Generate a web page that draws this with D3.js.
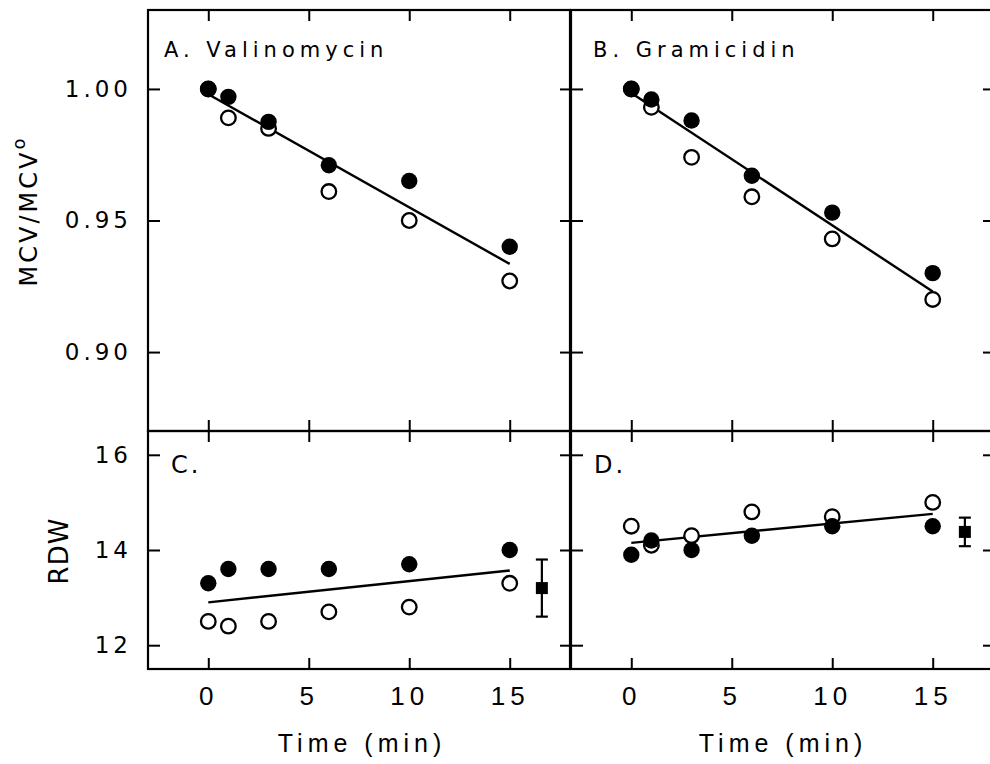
<!DOCTYPE html>
<html>
<head>
<meta charset="utf-8">
<script src="https://cdn.jsdelivr.net/npm/d3@7"></script>
<style>
  body { margin: 0; background: #fff; }
  svg text { font-family: "DejaVu Sans", "Liberation Sans", Arial, sans-serif; fill: #000; }
  svg text.narrow { font-family: "Liberation Sans", Arial, sans-serif; }
</style>
</head>
<body>
<div id="chart"></div>
<script>
const times = [0, 1, 3, 6, 10, 15];
const fitTimes = [0, 15];
const xTicks = [0, 5, 10, 15];
const mcvTicks = [0.90, 0.95, 1.00];
const rdwTicks = [12, 14, 16];

const mcvValinoFilled = [1.000, 0.997, 0.9875, 0.971, 0.965, 0.940];
const mcvValinoOpen   = [1.000, 0.989, 0.985, 0.961, 0.950, 0.927];
const mcvValinoFit    = [0.998, 0.9335];
const mcvGramiFilled  = [1.000, 0.996, 0.988, 0.967, 0.953, 0.930];
const mcvGramiOpen    = [1.000, 0.993, 0.974, 0.959, 0.943, 0.920];
const mcvGramiFit     = [0.9985, 0.923];
const rdwValinoFilled = [13.3, 13.6, 13.6, 13.6, 13.7, 14.0];
const rdwValinoOpen   = [12.5, 12.4, 12.5, 12.7, 12.8, 13.3];
const rdwValinoFit    = [12.9, 13.57];
const rdwGramiFilled  = [13.9, 14.2, 14.0, 14.3, 14.5, 14.5];
const rdwGramiOpen    = [14.5, 14.1, 14.3, 14.8, 14.7, 15.0];
const rdwGramiFit     = [14.15, 14.76];
const controlTime = 16.6;
const controlRdw = [13.2, 14.38];
const controlRdwSd = [0.6, 0.3];

const panelTitles = ["A. Valinomycin", "B. Gramicidin", "C.", "D."];

const width = 990, height = 764;
const cols = [[148, 570], [571, 993]];
const rows = [[10, 431], [431, 669]];

const svg = d3.select("#chart").append("svg")
  .attr("width", width)
  .attr("height", height);

const xScales = cols.map(r => d3.scaleLinear().domain([-3, 18]).range(r));
const yMcv = d3.scaleLinear().domain([0.87, 1.03]).range([rows[0][1], rows[0][0]]);
const yRdw = d3.scaleLinear().domain([11.5, 16.5]).range([rows[1][1], rows[1][0]]);

const panels = [
  { col: 0, row: 0, y: yMcv, ticks: mcvTicks, fmt: d3.format(".2f"), filled: mcvValinoFilled, open: mcvValinoOpen, fit: mcvValinoFit, title: panelTitles[0] },
  { col: 1, row: 0, y: yMcv, ticks: mcvTicks, fmt: d3.format(".2f"), filled: mcvGramiFilled, open: mcvGramiOpen, fit: mcvGramiFit, title: panelTitles[1] },
  { col: 0, row: 1, y: yRdw, ticks: rdwTicks, fmt: d3.format("d"), filled: rdwValinoFilled, open: rdwValinoOpen, fit: rdwValinoFit, title: panelTitles[2], ctrl: 0 },
  { col: 1, row: 1, y: yRdw, ticks: rdwTicks, fmt: d3.format("d"), filled: rdwGramiFilled, open: rdwGramiOpen, fit: rdwGramiFit, title: panelTitles[3], ctrl: 1 }
];

function styleAxis(sel, fontSize, spacing, narrow) {
  sel.select(".domain").remove();
  sel.selectAll("line").attr("stroke", "#000").attr("stroke-width", 2);
  sel.selectAll("text")
    .classed("narrow", !!narrow)
    .style("font-size", fontSize + "px")
    .style("letter-spacing", spacing + "px")
    .attr("fill", "#000");
}

panels.forEach(p => {
  const x = xScales[p.col];
  const y = p.y;
  const [x0, x1] = cols[p.col];
  const [y0, y1] = rows[p.row];
  const g = svg.append("g");

  g.append("rect")
    .attr("x", x0).attr("y", y0)
    .attr("width", x1 - x0).attr("height", y1 - y0)
    .attr("fill", "none")
    .attr("stroke", "#000")
    .attr("stroke-width", 2.2);

  g.append("g")
    .attr("transform", `translate(${x0},0)`)
    .call(d3.axisLeft(y).tickValues(p.ticks).tickSize(-12).tickPadding(16)
      .tickFormat(p.col === 0 ? p.fmt : ""))
    .call(s => styleAxis(s, 23, 4));

  g.append("g")
    .attr("transform", `translate(${x1},0)`)
    .call(d3.axisRight(y).tickValues(p.ticks).tickSize(-10).tickFormat(""))
    .call(s => styleAxis(s, 23, 4));

  g.append("g")
    .attr("transform", `translate(0,${y0})`)
    .call(d3.axisTop(x).tickValues(xTicks).tickSize(-11).tickFormat(""))
    .call(s => styleAxis(s, 23, 4));

  g.append("g")
    .attr("transform", `translate(0,${y1})`)
    .call(d3.axisBottom(x).tickValues(xTicks).tickSize(-11).tickPadding(18)
      .tickFormat(p.row === 1 ? d3.format("d") : ""))
    .call(s => styleAxis(s, 26, 5, true));

  // regression line
  const line = d3.line().x(d => x(d[0])).y(d => y(d[1]));
  g.append("path")
    .datum(fitTimes.map((t, i) => [t, p.fit[i]]))
    .attr("d", line)
    .attr("fill", "none")
    .attr("stroke", "#000")
    .attr("stroke-width", 2.4);

  g.selectAll(".open")
    .data(times.map((t, i) => [t, p.open[i]]))
    .enter()
    .append("circle")
    .attr("cx", d => x(d[0]))
    .attr("cy", d => y(d[1]))
    .attr("r", 7.3)
    .attr("fill", "#fff")
    .attr("stroke", "#000")
    .attr("stroke-width", 2.3);

  g.selectAll(".filled")
    .data(times.map((t, i) => [t, p.filled[i]]))
    .enter()
    .append("circle")
    .attr("cx", d => x(d[0]))
    .attr("cy", d => y(d[1]))
    .attr("r", 8.2)
    .attr("fill", "#000");

  // control mean +/- sd
  if (p.ctrl !== undefined) {
    const cx = x(controlTime);
    const m = controlRdw[p.ctrl], sd = controlRdwSd[p.ctrl];
    g.append("line")
      .attr("x1", cx).attr("x2", cx)
      .attr("y1", y(m - sd)).attr("y2", y(m + sd))
      .attr("stroke", "#000").attr("stroke-width", 2.2);
    [m - sd, m + sd].forEach(v => {
      g.append("line")
        .attr("x1", cx - 6).attr("x2", cx + 6)
        .attr("y1", y(v)).attr("y2", y(v))
        .attr("stroke", "#000").attr("stroke-width", 2.2);
    });
    g.append("rect")
      .attr("x", cx - 6).attr("y", y(m) - 6)
      .attr("width", 12).attr("height", 12)
      .attr("fill", "#000");
  }

  // panel title
  g.append("text")
    .attr("x", x0 + (p.row === 0 ? (p.col === 0 ? 16 : 22) : 23))
    .attr("y", p.row === 0 ? 57 : 473)
    .style("font-size", p.row === 0 ? "21px" : "24px")
    .style("letter-spacing", p.row === 0 ? "5px" : "3px")
    .text(p.title);
});

// axis titles
cols.forEach(c => {
  svg.append("text")
    .attr("class", "narrow")
    .attr("x", (c[0] + Math.min(c[1], 989)) / 2 + 3)
    .attr("y", 752)
    .attr("text-anchor", "middle")
    .style("font-size", "25px")
    .style("letter-spacing", "5px")
    .text("Time (min)");
});

const mcvLabel = svg.append("text")
  .attr("transform", "translate(37,211) rotate(-90)")
  .attr("text-anchor", "middle")
  .style("font-size", "24px")
  .style("letter-spacing", "3px");
mcvLabel.append("tspan").text("MCV/MCV");
mcvLabel.append("tspan")
  .attr("dy", -12)
  .style("font-size", "18px")
  .text("o");

svg.append("text")
  .attr("transform", "translate(68,551) rotate(-90)")
  .attr("text-anchor", "middle")
  .style("font-size", "26px")
  .style("letter-spacing", "1px")
  .text("RDW");
</script>
</body>
</html>
